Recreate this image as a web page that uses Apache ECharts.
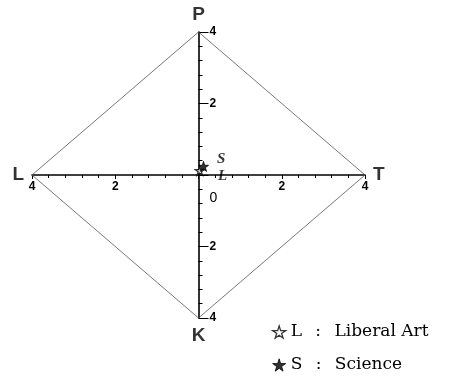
<!DOCTYPE html>
<html><head><meta charset="utf-8">
<script src="https://cdn.jsdelivr.net/npm/echarts@6/dist/echarts.min.js"></script>
<style>html,body{margin:0;padding:0;background:#fff}#c{width:451px;height:377px}</style>
</head><body><div id="c"></div>
<script>
// Data
var vertexNames = ['P', 'T', 'K', 'L'];
var vertexX = [0, 4, 0, -4];
var vertexY = [4, 0, -4, 0];
var groupNames = ['L : Liberal Art', 'S : Science'];
var groupShort = ['L', 'S'];
var groupX = [0.03, 0.12];
var groupY = [0.12, 0.24];
var axisTicks = [-4, -2, 0, 2, 4];

var STAR = 'path://M50,0 L61,35 L98,35 L68,57 L79,91 L50,70 L21,91 L32,57 L2,35 L39,35 Z';
var W = 451, H = 377;
var G = {left: 32, right: 86, top: 32, bottom: 59};
var chart = echarts.init(document.getElementById('c'), null, {renderer: 'canvas'});

var diamond = vertexX.map(function (x, i) { return [x, vertexY[i]]; });
diamond.push(diamond[0]);

var vertexPos = {P: 'top', T: 'right', K: 'bottom', L: 'left'};
var groupStyles = [
  {color: '#fff', borderColor: '#000', borderWidth: 1.3},
  {color: '#000', borderColor: '#000', borderWidth: 1}
];

chart.setOption({
  animation: false,
  backgroundColor: '#fff',
  grid: G,
  xAxis: {
    type: 'value', min: axisTicks[0], max: axisTicks[axisTicks.length - 1], interval: 2,
    offset: -(H - G.top - G.bottom) / 2,
    splitLine: {show: false},
    axisLine: {onZero: false, lineStyle: {color: '#000', width: 1.6}},
    axisTick: {show: true, length: 4, lineStyle: {color: '#000', width: 1}},
    minorTick: {show: true, splitNumber: 5, length: 3, lineStyle: {color: '#000', width: 1}},
    axisLabel: {
      color: '#000', fontWeight: 'bold', fontSize: 12, fontFamily: 'Liberation Sans', margin: 6,
      formatter: function (v) { return v === 0 ? '{z|0}' : String(Math.abs(v)); },
      rich: {z: {padding: [10, 0, 0, 30], fontSize: 14, fontWeight: 'normal', fontFamily: 'Liberation Sans', color: '#000'}}
    }
  },
  yAxis: {
    type: 'value', min: axisTicks[0], max: axisTicks[axisTicks.length - 1], interval: 2,
    offset: -(W - G.left - G.right) / 2,
    splitLine: {show: false},
    axisLine: {onZero: false, lineStyle: {color: '#000', width: 1.6}},
    axisTick: {show: true, inside: true, length: 10, lineStyle: {color: '#000', width: 1}},
    minorTick: {show: true, splitNumber: 5, length: 4, lineStyle: {color: '#000', width: 1}},
    axisLabel: {
      inside: true, margin: 11, color: '#000', fontWeight: 'bold', fontSize: 12, fontFamily: 'Liberation Sans',
      formatter: function (v) { return v === 0 ? '' : String(Math.abs(v)); }
    }
  },
  legend: {
    orient: 'vertical', left: 272, top: 323, height: 55, itemGap: 15, itemWidth: 13, itemHeight: 13,
    padding: 0,
    data: groupNames.map(function (n, i) {
      return {name: n, icon: STAR, itemStyle: groupStyles[i]};
    }),
    formatter: function (name) {
      var p = name.split(' : ');
      return p[0] + ' {c|:} ' + p[1];
    },
    textStyle: {fontFamily: 'DejaVu Serif', fontSize: 17, lineHeight: 18, color: '#000',
      rich: {c: {fontFamily: 'DejaVu Serif', fontSize: 17, lineHeight: 18, color: '#000', padding: [0, 8, 0, 8]}}}
  },
  series: [
    {
      type: 'line', data: diamond, symbol: 'none', silent: true, z: 1,
      lineStyle: {color: '#555', width: 0.8}
    },
    {
      type: 'scatter', symbolSize: 0, z: 3,
      data: vertexX.map(function (x, i) {
        return {value: [x, vertexY[i]], name: vertexNames[i],
          label: {show: true, position: vertexPos[vertexNames[i]], distance: 8, formatter: '{b}'}};
      }),
      label: {color: '#000', fontSize: 19, fontWeight: 'bold', fontFamily: 'Liberation Sans'}
    },
    {
      type: 'scatter', name: groupNames[0], symbol: STAR, symbolSize: 9, z: 4,
      itemStyle: groupStyles[0],
      data: [{value: [groupX[0], groupY[0]], name: groupShort[0]}],
      label: {show: true, formatter: '{b}', position: 'right', offset: [8, 5],
        fontFamily: 'Liberation Serif', fontStyle: 'italic', fontWeight: 'bold', fontSize: 15, color: '#000'}
    },
    {
      type: 'scatter', name: groupNames[1], symbol: STAR, symbolSize: 10, z: 5,
      itemStyle: groupStyles[1],
      data: [{value: [groupX[1], groupY[1]], name: groupShort[1]}],
      label: {show: true, formatter: '{b}', position: 'right', offset: [3, -7],
        fontFamily: 'Liberation Serif', fontStyle: 'italic', fontWeight: 'bold', fontSize: 15, color: '#000'}
    }
  ]
});
</script>
</body></html>
